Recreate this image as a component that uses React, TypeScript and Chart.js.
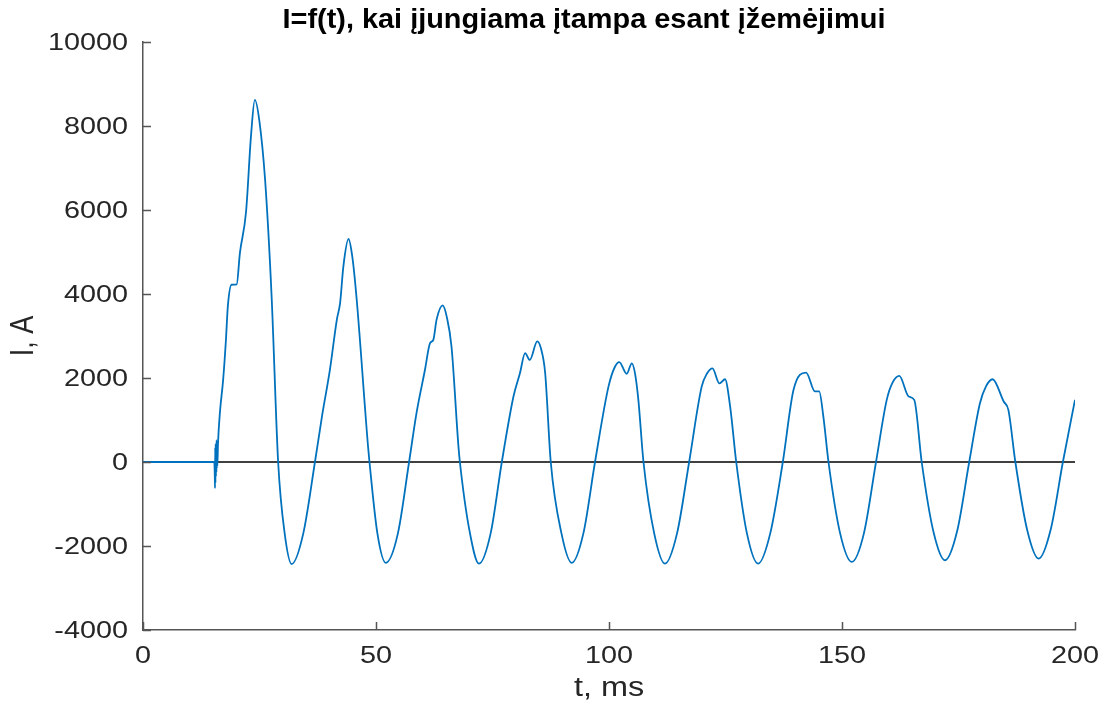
import React, { useEffect, useRef } from "react";
import { Chart, registerables } from "chart.js";

Chart.register(...registerables);

const TITLE = "I=f(t), kai įjungiama įtampa esant įžemėjimui";
const X_LABEL = "t, ms";
const Y_LABEL = "I, A";

const X_MIN = 0;
const X_MAX = 200;
const X_STEP = 50;
const Y_MIN = -4000;
const Y_MAX = 10000;
const Y_STEP = 2000;

// time, ms
const tValues = [
  0, 15.3, 15.4, 15.45, 15.5, 15.55, 15.6, 15.65, 15.7, 15.75, 15.8, 15.85, 15.9, 15.95, 16.1, 16.5, 17.2, 17.8, 18.2, 19.0, 20.1, 20.8, 22.1, 23.2, 24.0, 25.0,
  26.2, 27.6, 29.0, 30.4, 31.9, 34.4, 36.9, 38.5, 40.1, 41.6, 42.3, 43.0, 44.1, 44.9, 45.8, 48.3,
  48.6, 50.3, 52.1, 54.7, 57.1, 58.7, 60.5, 61.6, 62.3, 63.0, 64.3, 65.2, 66.2, 67.7,
  68.0, 70.0, 72.1, 74.6, 77.0, 79.5, 80.9, 82.0, 83.0, 84.6, 85.4, 86.3,
  87.5, 89.8, 92.0, 94.5, 97.0, 99.9, 101.2, 102.2, 103.8, 104.9, 105.6, 106.3,
  107.4, 109.7, 112.0, 114.6, 117.2, 119.9, 121.0, 122.2, 123.7, 124.9, 126.0,
  127.3, 129.6, 132.0, 134.6, 137.3, 139.6, 142.3, 144.2, 145.1, 146.0,
  147.1, 149.6, 152.1, 154.7, 157.3, 159.6, 160.9, 162.3, 164.3, 165.5,
  167.1, 169.6, 172.1, 174.7, 177.3, 179.6, 180.9, 182.3, 184.7, 185.7,
  187.2, 189.7, 192.2, 194.8, 197.4, 200,
];

// current, A
const iValues = [
  0, 0, -300, -620, 350, -500, 430, -350, 400, -250, 520, -150, 480, -100, 450, 1170, 1960, 2910, 3700, 4220, 4230, 4980, 5940, 7800, 8620, 8100,
  6720, 3940, 0, -1700, -2430, -1700, 0, 1150, 2190, 3390, 3790, 4660, 5310, 4900, 3940, 360,
  0, -1700, -2400, -1700, 0, 1170, 2190, 2830, 2910, 3390, 3730, 3450, 2750, 360,
  0, -1600, -2420, -1700, 0, 1560, 2120, 2590, 2430, 2870, 2700, 2120,
  0, -1700, -2400, -1700, 0, 1800, 2250, 2380, 2100, 2350, 2100, 1480,
  0, -1700, -2420, -1700, 0, 1800, 2100, 2230, 1870, 1970, 1320,
  0, -1700, -2420, -1700, 0, 1720, 2130, 1680, 1680, 1080,
  0, -1700, -2380, -1700, 0, 1480, 1900, 2050, 1560, 1480,
  0, -1650, -2340, -1650, 0, 1400, 1800, 1970, 1440, 1240,
  0, -1600, -2300, -1600, 0, 1480,
];

const zeroLineT = [X_MIN, X_MAX];
const zeroLineI = [0, 0];

const TEXT_COLOR = "#262626";
const AXIS_COLOR = "#555555";
const FONT = "'Liberation Sans', Arial, sans-serif";
const STRETCH = 1.2;

function stretchedText(ctx: any, text: string, x: number, y: number, align: string, sx: number) {
  ctx.save();
  ctx.translate(x, y);
  ctx.scale(sx, 1);
  ctx.textAlign = align;
  ctx.fillText(text, 0, 0);
  ctx.restore();
}

const decorPlugin = {
  id: "decor",
  afterDraw(chart: any) {
    const { ctx, chartArea } = chart;
    const xs = chart.scales.x;
    const ys = chart.scales.y;
    ctx.save();
    // inward ticks
    ctx.strokeStyle = AXIS_COLOR;
    ctx.lineWidth = 1.5;
    ctx.beginPath();
    ys.ticks.forEach((t: any) => {
      const y = Math.round(ys.getPixelForValue(t.value)) + 0.5;
      ctx.moveTo(chartArea.left, y);
      ctx.lineTo(chartArea.left + 8, y);
    });
    xs.ticks.forEach((t: any) => {
      const x = Math.round(xs.getPixelForValue(t.value)) + 0.5;
      ctx.moveTo(x, chartArea.bottom);
      ctx.lineTo(x, chartArea.bottom - 8);
    });
    ctx.stroke();

    // tick labels
    ctx.fillStyle = TEXT_COLOR;
    ctx.font = `24px ${FONT}`;
    ctx.textBaseline = "middle";
    ys.ticks.forEach((t: any) => {
      stretchedText(ctx, String(t.value), chartArea.left - 15, ys.getPixelForValue(t.value) + 1, "right", STRETCH);
    });
    xs.ticks.forEach((t: any) => {
      stretchedText(ctx, String(t.value), xs.getPixelForValue(t.value), chartArea.bottom + 26, "center", STRETCH);
    });

    // title
    ctx.fillStyle = "#000000";
    ctx.font = `bold 27px ${FONT}`;
    const w = ctx.measureText(TITLE).width;
    const targetW = 603;
    stretchedText(ctx, TITLE, 584, 21, "center", targetW / w);

    // axis labels
    ctx.fillStyle = TEXT_COLOR;
    ctx.font = `27px ${FONT}`;
    stretchedText(ctx, X_LABEL, (chartArea.left + chartArea.right) / 2, 689, "center", STRETCH);
    ctx.save();
    ctx.translate(24, 336);
    ctx.rotate(-Math.PI / 2);
    ctx.scale(1, STRETCH);
    ctx.textAlign = "center";
    ctx.fillText(Y_LABEL, 0, 0);
    ctx.restore();
    ctx.restore();
  },
};

export default function App() {
  const ref = useRef<HTMLCanvasElement | null>(null);

  useEffect(() => {
    if (!ref.current) return;
    const mainData = tValues.map((t, i) => ({ x: t, y: iValues[i] }));
    const zeroData = zeroLineT.map((t, i) => ({ x: t, y: zeroLineI[i] }));
    const chart = new Chart(ref.current, {
      type: "line",
      data: {
        datasets: [
          {
            data: mainData,
            borderColor: "#0072BD",
            borderWidth: 1.8,
            pointRadius: 0,
            cubicInterpolationMode: "monotone",
            fill: false,
          },
          {
            data: zeroData,
            borderColor: "#404040",
            borderWidth: 2,
            pointRadius: 0,
            fill: false,
          },
        ],
      },
      options: {
        animation: false,
        responsive: false,
        maintainAspectRatio: false,
        events: [],
        layout: { padding: { top: 42, right: 35, left: 0, bottom: 0 } },
        plugins: {
          legend: { display: false },
          title: { display: false },
          tooltip: { enabled: false },
        },
        scales: {
          x: {
            type: "linear",
            min: X_MIN,
            max: X_MAX,
            ticks: { stepSize: X_STEP, display: false },
            grid: { drawOnChartArea: false, drawTicks: false },
            border: { display: true, color: AXIS_COLOR, width: 1.5 },
            afterFit: (s: any) => {
              s.height = 75;
            },
          },
          y: {
            type: "linear",
            min: Y_MIN,
            max: Y_MAX,
            ticks: { stepSize: Y_STEP, display: false },
            grid: { drawOnChartArea: false, drawTicks: false },
            border: { display: true, color: AXIS_COLOR, width: 1.5 },
            afterFit: (s: any) => {
              s.width = 143;
            },
          },
        },
      },
      plugins: [decorPlugin],
    });
    return () => chart.destroy();
  }, []);

  return (
    <div style={{ position: "fixed", left: 0, top: 0, width: 1110, height: 705, background: "#ffffff" }}>
      <canvas ref={ref} width={1110} height={705} style={{ width: 1110, height: 705, display: "block" }} />
    </div>
  );
}
